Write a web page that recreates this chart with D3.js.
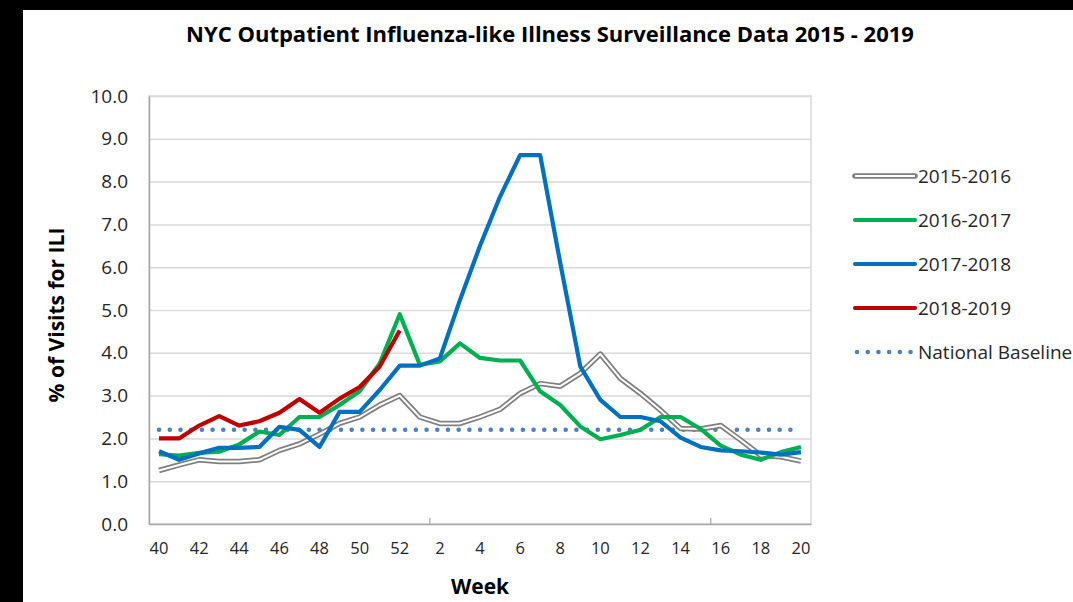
<!DOCTYPE html>
<html>
<head>
<meta charset="utf-8">
<script src="https://cdn.jsdelivr.net/npm/d3@7"></script>
<style>
  body { margin: 0; background: #000; }
  #graph { position: absolute; left: 23px; top: 10px; }
  text { font-family: "Open Sans", "Liberation Sans", sans-serif; fill: #262626; }
</style>
</head>
<body>
<div id="graph"></div>
<script>
'use strict';

(function() {

  // week numbers on the x axis (flu season runs week 40 -> week 20)
  const weeks = [40, 41, 42, 43, 44, 45, 46, 47, 48, 49, 50, 51, 52,
    1, 2, 3, 4, 5, 6, 7, 8, 9, 10, 11, 12, 13, 14, 15, 16, 17, 18, 19, 20];

  const season1516 = [1.25, 1.38, 1.5, 1.46, 1.46, 1.5, 1.72, 1.87, 2.1, 2.35, 2.5, 2.78, 3.0,
    2.5, 2.35, 2.35, 2.5, 2.68, 3.05, 3.28, 3.22, 3.52, 3.97, 3.4, 3.05, 2.66, 2.23,
    2.22, 2.3, 1.96, 1.6, 1.57, 1.47];
  const season1617 = [1.63, 1.6, 1.66, 1.69, 1.86, 2.16, 2.08, 2.5, 2.5, 2.78, 3.1, 3.75, 4.9,
    3.72, 3.8, 4.22, 3.88, 3.82, 3.82, 3.1, 2.78, 2.28, 1.98, 2.08, 2.2, 2.5, 2.5,
    2.22, 1.83, 1.62, 1.5, 1.68, 1.8];
  const season1718 = [1.7, 1.5, 1.65, 1.78, 1.78, 1.8, 2.27, 2.2, 1.8, 2.62, 2.62, 3.13, 3.7,
    3.7, 3.87, 5.23, 6.5, 7.65, 8.62, 8.62, 6.1, 3.68, 2.9, 2.5, 2.5, 2.4, 2.02,
    1.8, 1.72, 1.7, 1.67, 1.62, 1.68];
  const season1819 = [2.0, 2.0, 2.3, 2.52, 2.3, 2.4, 2.6, 2.92, 2.6, 2.93, 3.2, 3.68, 4.52];
  const baseline = 2.2;

  const seriesNames = ["2015-2016", "2016-2017", "2017-2018", "2018-2019", "National Baseline"];
  const seriesColors = ["#7f7f7f", "#00b050", "#0070c0", "#c00000", "#4f81bd"];
  const yTicks = [0, 1, 2, 3, 4, 5, 6, 7, 8, 9, 10];

  // svg origin is shifted by the div (23, 10), so subtract that
  const ox = 23, oy = 10;
  const plot = { left: 149 - ox, right: 811 - ox, top: 96 - oy, bottom: 524 - oy };

  const svg = d3.select('#graph')
    .append('svg')
    .attr('width', 1073 - ox)
    .attr('height', 602 - oy)
    .style('background', '#fff');

  let xScale = d3.scaleBand()
    .domain(d3.range(weeks.length))
    .range([plot.left, plot.right])
    .padding(0);
  let xMid = function(i) { return xScale(i) + xScale.bandwidth() / 2; };

  let yScale = d3.scaleLinear()
    .domain([0, 10])
    .range([plot.bottom, plot.top]);

  // plot area border
  svg.append('rect')
    .attr('x', plot.left)
    .attr('y', plot.top)
    .attr('width', plot.right - plot.left)
    .attr('height', plot.bottom - plot.top)
    .style('fill', 'none')
    .style('stroke', '#d9d9d9')
    .style('stroke-width', 1.5);

  // gridlines
  svg.append('g')
    .attr('transform', 'translate(' + plot.left + ',0)')
    .call(d3.axisLeft(yScale).tickValues(yTicks.slice(1)).tickSize(-(plot.right - plot.left)).tickFormat(''))
    .call(g => g.select('.domain').remove())
    .selectAll('line')
      .style('stroke', '#d9d9d9')
      .style('stroke-width', 1.5);

  // y axis
  let yAxis = svg.append('g')
    .attr('transform', 'translate(' + plot.left + ',0)')
    .call(d3.axisLeft(yScale).tickValues(yTicks).tickSize(0).tickPadding(21).tickFormat(d3.format('.1f')));
  yAxis.select('.domain').style('stroke', '#a6a6a6').style('stroke-width', 1.5);
  yAxis.selectAll('text')
    .style('font-size', '19px')
    .style('fill', '#262626');

  // x axis, label every second week
  let xAxis = svg.append('g')
    .attr('transform', 'translate(0,' + plot.bottom + ')')
    .call(d3.axisBottom(xScale)
      .tickValues(d3.range(0, weeks.length, 2))
      .tickSize(0)
      .tickPadding(18)
      .tickFormat(i => weeks[i]));
  xAxis.select('.domain').style('stroke', '#a6a6a6').style('stroke-width', 1.5);
  xAxis.selectAll('text')
    .style('font-size', '16.5px')
    .style('fill', '#262626');

  // small inward tick marks every 14 categories
  svg.selectAll('.xmark')
    .data([14, 28])
    .enter()
    .append('line')
      .attr('x1', d => xScale(d))
      .attr('x2', d => xScale(d))
      .attr('y1', plot.bottom)
      .attr('y2', plot.bottom - 6)
      .style('stroke', '#a6a6a6')
      .style('stroke-width', 1.2);

  let line = d3.line()
    .x((d, i) => xMid(i))
    .y(d => yScale(d));

  // national baseline (dotted)
  svg.append('path')
    .datum(weeks.map(() => baseline))
    .attr('d', line)
    .style('fill', 'none')
    .style('stroke', seriesColors[4])
    .style('stroke-width', 4.5)
    .style('stroke-linecap', 'round')
    .style('stroke-dasharray', '0.1 10.6');

  // 2015-2016 double line: gray outline with a white core
  svg.append('path')
    .datum(season1516)
    .attr('d', line)
    .style('fill', 'none')
    .style('stroke', seriesColors[0])
    .style('stroke-width', 5.5)
    .style('stroke-linejoin', 'round');
  svg.append('path')
    .datum(season1516)
    .attr('d', line)
    .style('fill', 'none')
    .style('stroke', '#fff')
    .style('stroke-width', 2)
    .style('stroke-linejoin', 'round');

  [season1617, season1718, season1819].forEach(function(vals, k) {
    svg.append('path')
      .datum(vals)
      .attr('d', line)
      .style('fill', 'none')
      .style('stroke', seriesColors[k + 1])
      .style('stroke-width', 4.2)
      .style('stroke-linejoin', 'round');
  });

  // title and axis labels
  svg.append('text')
    .attr('x', 550 - ox)
    .attr('y', 42 - oy)
    .attr('text-anchor', 'middle')
    .style('font-size', '22px')
    .style('font-weight', 'bold')
    .style('fill', '#000')
    .text('NYC Outpatient Influenza-like Illness Surveillance Data 2015 - 2019');

  svg.append('text')
    .attr('x', (plot.left + plot.right) / 2)
    .attr('y', 594 - oy)
    .attr('text-anchor', 'middle')
    .style('font-size', '21px')
    .style('font-weight', 'bold')
    .style('fill', '#000')
    .text('Week');

  svg.append('text')
    .attr('transform', 'translate(' + (64 - ox) + ',' + (315 - oy) + ')rotate(-90)')
    .attr('text-anchor', 'middle')
    .style('font-size', '21px')
    .style('font-weight', 'bold')
    .style('fill', '#000')
    .text('% of Visits for ILI');

  // legend
  let legend = svg.append('g');
  seriesNames.forEach(function(name, i) {
    let y = 176 - oy + i * 44;
    let x0 = 855 - ox, x1 = 915 - ox;
    if (i === 0) {
      legend.append('line').attr('x1', x0).attr('x2', x1).attr('y1', y).attr('y2', y)
        .style('stroke', seriesColors[0]).style('stroke-width', 5.5).style('stroke-linecap', 'round');
      legend.append('line').attr('x1', x0).attr('x2', x1).attr('y1', y).attr('y2', y)
        .style('stroke', '#fff').style('stroke-width', 2);
    } else if (i === 4) {
      legend.append('line').attr('x1', x0 + 2).attr('x2', x1).attr('y1', y).attr('y2', y)
        .style('stroke', seriesColors[4]).style('stroke-width', 4.5)
        .style('stroke-linecap', 'round').style('stroke-dasharray', '0.1 10.6');
    } else {
      legend.append('line').attr('x1', x0).attr('x2', x1).attr('y1', y).attr('y2', y)
        .style('stroke', seriesColors[i]).style('stroke-width', 4.2).style('stroke-linecap', 'round');
    }
    legend.append('text')
      .attr('x', 918 - ox)
      .attr('y', y)
      .attr('dy', '0.35em')
      .style('font-size', '19px')
      .text(name);
  });

})();
</script>
</body>
</html>
